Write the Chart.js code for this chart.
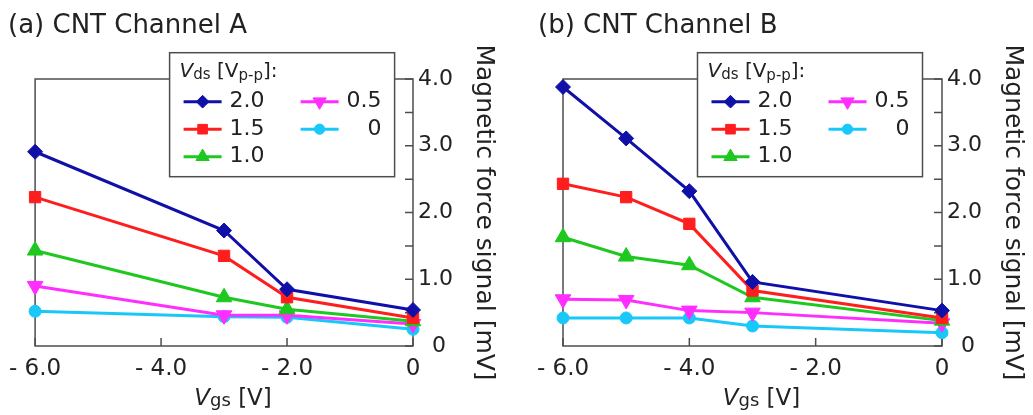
<!DOCTYPE html>
<html>
<head>
<meta charset="utf-8">
<script src="https://cdn.jsdelivr.net/npm/chart.js@4.4.1/dist/chart.umd.min.js"></script>
<style>
  body { margin: 0; background: #fff; }
  #wrap { position: relative; width: 1033px; height: 415px; }
  canvas { position: absolute; top: 0; }
  #chartA { left: 0; }
  #chartB { left: 517px; }
</style>
</head>
<body>
<div id="wrap">
  <canvas id="chartA" width="517" height="415"></canvas>
  <canvas id="chartB" width="516" height="415"></canvas>
</div>
<script>
// Vds [Vp-p] settings, in legend order
const vdsLabels = ['2.0', '1.5', '1.0', '0.5', '0'];

// Channel A: magnetic force signal [mV] vs Vgs [V]
const vgsA = [-6, -3, -2, 0];
const chA_20 = [2.91, 1.73, 0.85, 0.54];
const chA_15 = [2.23, 1.35, 0.73, 0.42];
const chA_10 = [1.43, 0.73, 0.55, 0.37];
const chA_05 = [0.90, 0.46, 0.46, 0.33];
const chA_00 = [0.52, 0.44, 0.43, 0.25];

// Channel B
const vgsB = [-6, -5, -4, -3, 0];
const chB_20 = [3.88, 3.11, 2.32, 0.96, 0.53];
const chB_15 = [2.43, 2.23, 1.83, 0.83, 0.42];
const chB_10 = [1.63, 1.34, 1.21, 0.73, 0.38];
const chB_05 = [0.70, 0.69, 0.53, 0.50, 0.34];
const chB_00 = [0.42, 0.42, 0.42, 0.30, 0.20];

// axis ticks
const xTicks = [-6, -4, -2, 0];
const xTickLabels = ['- 6.0', '- 4.0', '- 2.0', '0'];
const yTicks = [0, 1, 2, 3, 4];
const yTickLabels = ['\u20070', '1.0', '2.0', '3.0', '4.0']; // figure space nudges the lone zero right

const colors = ['#1010a8', '#ff1e1e', '#1ec81e', '#ff2eff', '#18c8f8'];
const markers = ['rectRot', 'rect', 'triangle', 'triangle', 'circle'];
const markerRot = [0, 0, 0, 180, 0];
const markerSize = [7.5, 8, 9, 9, 6];

const FONT = 'DejaVu Sans';
const INK = '#222';
const FRAME = '#4d4d4d';

Chart.defaults.font.family = FONT;
Chart.defaults.color = INK;

// draws a row of text pieces (for italic V and subscripts)
function textRuns(ctx, x, y, runs) {
  runs.forEach(r => {
    ctx.font = r.font;
    ctx.fillText(r.t, x, y + (r.dy || 0));
    x += ctx.measureText(r.t).width;
  });
}
function runsWidth(ctx, runs) {
  let w = 0;
  runs.forEach(r => { ctx.font = r.font; w += ctx.measureText(r.t).width; });
  return w;
}

const panelDecor = {
  id: 'panelDecor',
  beforeDatasetsDraw(chart) {
    const { ctx, chartArea: a, scales: { x, y } } = chart;
    ctx.save();
    ctx.strokeStyle = FRAME;
    ctx.lineWidth = 1.5;
    ctx.strokeRect(a.left, a.top, a.right - a.left, a.bottom - a.top);
    // ticks point into the plot
    ctx.beginPath();
    x.ticks.forEach(t => {
      const px = x.getPixelForValue(t.value);
      ctx.moveTo(px, a.bottom);
      ctx.lineTo(px, a.bottom - 8);
    });
    y.ticks.forEach(t => {
      const py = y.getPixelForValue(t.value);
      ctx.moveTo(a.right, py);
      ctx.lineTo(a.right - 8, py);
    });
    ctx.stroke();
    ctx.restore();
  },
  afterDraw(chart, args, opts) {
    const { ctx, chartArea: a } = chart;
    ctx.save();
    ctx.fillStyle = INK;
    ctx.textBaseline = 'alphabetic';

    // panel title
    ctx.font = '26px ' + FONT;
    ctx.fillText(opts.title, opts.titleX, 33);

    // x axis title: Vgs [V]
    const xt = [
      { t: 'V', font: 'italic 23px ' + FONT },
      { t: 'gs', font: '18px ' + FONT, dy: 1 },
      { t: ' [V]', font: '23px ' + FONT }
    ];
    const cx = (a.left + a.right) / 2 + 9;
    textRuns(ctx, cx - runsWidth(ctx, xt) / 2, 405, xt);

    // legend box
    const bx = a.left + 134.5, by = 52.7, bw = 225, bh = 124;
    ctx.fillStyle = '#fff';
    ctx.fillRect(bx, by, bw, bh);
    ctx.strokeStyle = FRAME;
    ctx.lineWidth = 1.5;
    ctx.strokeRect(bx, by, bw, bh);

    ctx.fillStyle = INK;
    textRuns(ctx, bx + 10, by + 24, [
      { t: 'V', font: 'italic 20px ' + FONT },
      { t: 'ds', font: '15px ' + FONT, dy: 2 },
      { t: ' [V', font: '20px ' + FONT },
      { t: 'p-p', font: '15px ' + FONT, dy: 3 },
      { t: ']:', font: '20px ' + FONT }
    ]);

    ctx.font = '22px ' + FONT;
    ctx.textBaseline = 'middle';
    chart.data.datasets.forEach((ds, i) => {
      const col = i < 3 ? 0 : 1;
      const row = i < 3 ? i : i - 3;
      const ry = by + 49 + row * 27.5;
      const x0 = bx + (col ? 131 : 14);
      ctx.strokeStyle = ds.borderColor;
      ctx.lineWidth = 3;
      ctx.beginPath();
      ctx.moveTo(x0, ry);
      ctx.lineTo(x0 + 38, ry);
      ctx.stroke();
      ctx.fillStyle = ds.borderColor;
      ctx.lineWidth = 1;
      Chart.helpers.drawPoint(ctx, {
        pointStyle: ds.pointStyle,
        rotation: ds.pointRotation,
        radius: ds.pointRadius * 0.85,
        borderWidth: 1
      }, x0 + 19, ry);
      ctx.fillStyle = INK;
      if (col) {
        ctx.textAlign = 'right';
        ctx.fillText(ds.label, bx + 212, ry);
      } else {
        ctx.textAlign = 'left';
        ctx.fillText(ds.label, bx + 60, ry);
      }
    });
    ctx.restore();
  }
};

function makeDatasets(xs, series) {
  return series.map((vals, i) => ({
    label: vdsLabels[i],
    data: xs.map((v, j) => ({ x: v, y: vals[j] })),
    borderColor: colors[i],
    backgroundColor: colors[i],
    borderWidth: 3,
    pointStyle: markers[i],
    pointRotation: markerRot[i],
    pointRadius: markerSize[i],
    pointBorderWidth: 1,
    pointBackgroundColor: colors[i],
    pointBorderColor: colors[i],
    tension: 0,
    clip: false
  }));
}

function makePanel(id, title, titleX, padLeft, yAxisWidth, yTitlePad, xs, series) {
  new Chart(document.getElementById(id), {
    type: 'line',
    data: { datasets: makeDatasets(xs, series) },
    options: {
      responsive: false,
      animation: false,
      events: [],
      layout: { padding: { left: padLeft, top: 79, right: 0, bottom: 0 } },
      plugins: {
        legend: { display: false },
        tooltip: { enabled: false },
        panelDecor: { title: title, titleX: titleX }
      },
      scales: {
        x: {
          type: 'linear',
          min: -6,
          max: 0,
          grid: { display: false, drawTicks: false },
          border: { display: false },
          ticks: {
            stepSize: 2,
            padding: 9,
            font: { size: 23 },
            color: INK,
            autoSkip: false,
            maxRotation: 0,
            callback: v => {
              const k = xTicks.indexOf(v);
              return k >= 0 ? xTickLabels[k] : '';
            }
          },
          afterFit: s => { s.height = 69; }
        },
        y: {
          position: 'right',
          min: 0,
          max: 4,
          grid: { display: false, drawTicks: false },
          border: { display: false },
          ticks: {
            stepSize: 0.5,
            padding: 5,
            font: { size: 22 },
            color: INK,
            autoSkip: false,
            callback: v => {
              const k = yTicks.indexOf(v);
              return k >= 0 ? yTickLabels[k] : '';
            }
          },
          title: {
            display: true,
            text: 'Magnetic force signal [mV]',
            font: { size: 25 },
            color: INK,
            padding: { top: yTitlePad, bottom: 0 }
          },
          afterFit: s => { s.width = yAxisWidth; }
        }
      }
    },
    plugins: [panelDecor]
  });
}

makePanel('chartA', '(a) CNT Channel A', 8, 34, 104, 19, vgsA,
  [chA_20, chA_15, chA_10, chA_05, chA_00]);
makePanel('chartB', '(b) CNT Channel B', 21, 46, 91, 6, vgsB,
  [chB_20, chB_15, chB_10, chB_05, chB_00]);
</script>
</body>
</html>
